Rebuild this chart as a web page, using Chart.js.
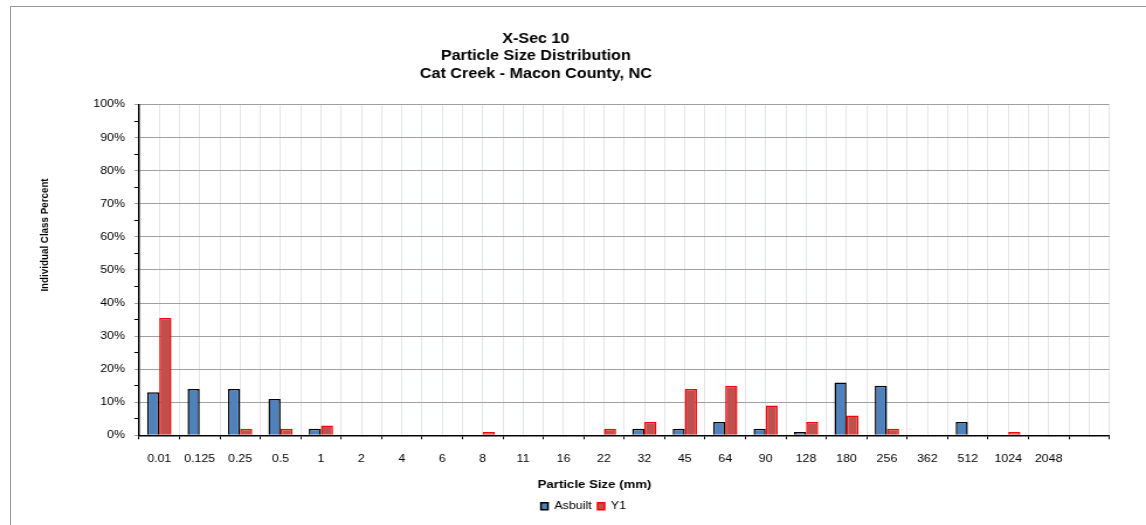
<!DOCTYPE html>
<html>
<head>
<meta charset="utf-8">
<script src="https://cdn.jsdelivr.net/npm/chart.js@4/dist/chart.umd.min.js"></script>
<style>
  html, body { margin: 0; padding: 0; background: #fff; }
  #wrap { position: relative; width: 1146px; height: 525px; overflow: hidden; }
  #frame { position: absolute; left: 10px; top: 6px; right: 0; bottom: 0;
           border-top: 1px solid #999; border-left: 1px solid #999; pointer-events: none; }
  /* the chart is laid out on a narrower canvas and widened to the page width */
  #stretch { position: absolute; left: 0; top: 0; width: 980px; height: 525px;
             transform-origin: 0 0; transform: scaleX(1.16939); }
</style>
</head>
<body>
<div id="wrap">
  <div id="stretch"><canvas id="c" width="980" height="525"></canvas></div>
  <div id="frame"></div>
</div>
<script>
// Particle size classes (mm); the trailing blank slot keeps an empty class at the right
const sizeClasses = ['0.01', '0.125', '0.25', '0.5', '1', '2', '4', '6', '8', '11', '16', '22',
                     '32', '45', '64', '90', '128', '180', '256', '362', '512', '1024', '2048', ''];

// Individual class percent per survey
const asbuiltPct = [13, 14, 14, 11, 2, 0, 0, 0, 0, 0, 0, 0, 2, 2, 4, 2, 1, 16, 15, 0, 4, 0, 0];
const y1Pct      = [35.5, 0, 2, 2, 3, 0, 0, 0, 1, 0, 0, 2, 4, 14, 15, 9, 4, 6, 2, 0, 0, 1, 0];

const titleLines = ['X-Sec 10', 'Particle Size Distribution', 'Cat Creek - Macon County, NC'];
const xAxisTitle = 'Particle Size (mm)';
const yAxisTitle = 'Individual Class Percent';
const yTicks = [0, 10, 20, 30, 40, 50, 60, 70, 80, 90, 100];

const FONT = 'Arial, "Liberation Sans", sans-serif';
Chart.defaults.font.family = FONT;
Chart.defaults.color = '#000';

const VGRID = '#e2e5ed';

// Centres (canvas units) of the blocks that sit off the plot's middle
const TITLE_CX = 458.2;
const LEGEND_CX = 499;
const XTITLE_POS = { x: 508.4, y: 485 };
const YTITLE_POS = { x: 38.5, y: 235 };

const placement = {
  id: 'placement',
  afterLayout(chart) {
    const t = chart.titleBlock;
    if (t) { const d = TITLE_CX - (t.left + t.right) / 2; t.left += d; t.right += d; }
    const lg = chart.legend;
    if (lg) { const d = LEGEND_CX - (lg.left + lg.right) / 2; lg.left += d; lg.right += d; }
  },
  afterDraw(chart) {
    const ctx = chart.ctx;
    ctx.save();
    ctx.fillStyle = '#000';
    ctx.textAlign = 'center';
    ctx.textBaseline = 'middle';
    ctx.font = 'bold 11.3px ' + FONT;
    ctx.fillText(xAxisTitle, XTITLE_POS.x, XTITLE_POS.y);
    ctx.translate(YTITLE_POS.x, YTITLE_POS.y);
    ctx.rotate(-Math.PI / 2);
    ctx.font = 'bold 9.8px ' + FONT;
    ctx.fillText(yAxisTitle, 0, 0);
    ctx.restore();
  }
};

new Chart(document.getElementById('c'), {
  type: 'bar',
  data: {
    labels: sizeClasses,
    datasets: [
      { label: 'Asbuilt', data: asbuiltPct, backgroundColor: '#4f81bd',
        borderColor: '#000', borderWidth: 1.5, xAxisID: 'x' },
      { label: 'Y1', data: y1Pct, backgroundColor: '#c0504d',
        borderColor: '#ff0000', borderWidth: 1.5, xAxisID: 'x' }
    ]
  },
  plugins: [placement],
  options: {
    responsive: false,
    animation: false,
    events: [],
    layout: { padding: { left: 32.5, right: 31.4, top: 0, bottom: 3.5 } },
    datasets: { bar: { categoryPercentage: 0.6, barPercentage: 1.0 } },
    plugins: {
      title: {
        display: true, text: titleLines, color: '#000',
        font: { family: FONT, size: 13.8, weight: 'bold', lineHeight: 1.27 },
        padding: { top: 30, bottom: 22 }
      },
      legend: {
        position: 'bottom',
        labels: { boxWidth: 6, boxHeight: 7, padding: 5,
                  font: { family: FONT, size: 10.7 }, color: '#000' }
      },
      tooltip: { enabled: false }
    },
    scales: {
      x: {
        type: 'category',
        position: 'bottom',
        offset: true,
        afterFit: s => { s.height = 60.5; },
        grid: {
          offset: true,
          drawOnChartArea: true,
          color: ctx => (ctx.index === sizeClasses.length ? '#a0a0a0' : VGRID),
          tickColor: '#000',
          tickLength: 4,
          lineWidth: 1
        },
        border: { display: true, color: '#000', width: 1.5 },
        ticks: { padding: 13, autoSkip: false, maxRotation: 0,
                 font: { family: FONT, size: 10.6 }, color: '#000' },
        title: { display: false }
      },
      x2: {
        type: 'category',
        position: 'bottom',
        labels: sizeClasses,
        offset: true,
        afterFit: s => { s.height = 0; },
        grid: { offset: false, drawTicks: false, color: VGRID, lineWidth: 1 },
        border: { display: false },
        ticks: { display: false }
      },
      y: {
        min: 0, max: 100,
        afterFit: s => { s.width = 118.9 - 32.5; },
        afterBuildTicks: s => {
          // majors every 10 %, minor tick marks every 5 %
          const t = [];
          for (let v = 0; v <= 100; v += 5) t.push({ value: v });
          s.ticks = t;
        },
        grid: {
          color: ctx => (ctx.tick && ctx.tick.value % 10 === 0 ? '#a0a0a0' : 'rgba(0,0,0,0)'),
          tickColor: ctx => (ctx.tick && ctx.tick.value % 10 === 0 ? '#a0a0a0' : '#000'),
          tickLength: 4,
          lineWidth: 1
        },
        border: { display: true, color: '#000', width: 1.5 },
        ticks: {
          padding: 8,
          font: { family: FONT, size: 10.6 }, color: '#000',
          callback: v => (yTicks.includes(v) ? v + '%' : '')
        },
        title: { display: false }
      }
    }
  }
});
</script>
</body>
</html>
